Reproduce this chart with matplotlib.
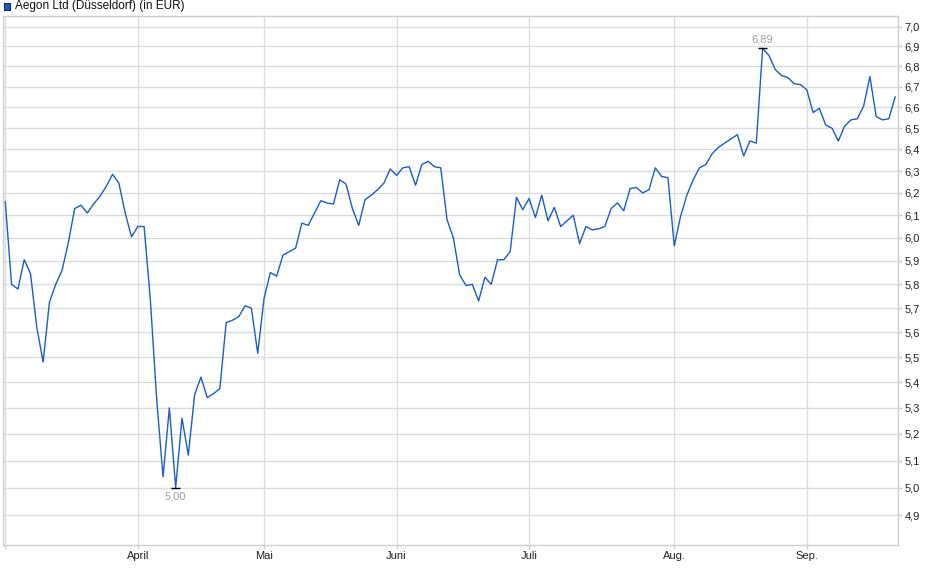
import numpy as np
import pandas as pd
import matplotlib
matplotlib.use("Agg")
import matplotlib.pyplot as plt
from matplotlib.patches import Rectangle
from matplotlib.ticker import FixedLocator, NullLocator

plt.rcParams["font.family"] = ["Liberation Sans", "DejaVu Sans"]

title = "Aegon Ltd (Düsseldorf) (in EUR)"

# trading days (Düsseldorf), March 3 - Sept 19 2025
holidays = ["2025-04-18", "2025-04-21", "2025-05-01"]
dates = pd.bdate_range("2025-03-03", "2025-09-19")
dates = dates[~dates.isin(pd.to_datetime(holidays))]

close = [
    6.16, 5.80, 5.78, 5.905, 5.845, 5.62, 5.48, 5.725, 5.80, 5.86,
    5.98, 6.13, 6.145, 6.11, 6.15, 6.185, 6.23, 6.285, 6.245, 6.11,
    6.005, 6.05, 6.05, 5.73, 5.33, 5.04, 5.30, 5.00, 5.26, 5.12,
    5.35, 5.42, 5.34, 5.355, 5.375, 5.64, 5.65, 5.665, 5.71, 5.70,
    5.515, 5.74, 5.85, 5.835, 5.925, 5.94, 5.955, 6.065, 6.055, 6.11,
    6.165, 6.155, 6.15, 6.26, 6.24, 6.13, 6.055, 6.17, 6.19, 6.215,
    6.245, 6.31, 6.28, 6.315, 6.32, 6.235, 6.33, 6.345, 6.32, 6.315,
    6.08, 6.00, 5.84, 5.795, 5.80, 5.73, 5.83, 5.80, 5.905, 5.905,
    5.94, 6.18, 6.125, 6.175, 6.09, 6.19, 6.075, 6.135, 6.05, 6.075,
    6.10, 5.975, 6.05, 6.035, 6.04, 6.05, 6.13, 6.155, 6.12, 6.22,
    6.225, 6.20, 6.215, 6.315, 6.275, 6.27, 5.965, 6.095, 6.19, 6.26,
    6.315, 6.33, 6.38, 6.41, 6.43, 6.45, 6.47, 6.37, 6.44, 6.43,
    6.89, 6.855, 6.785, 6.755, 6.745, 6.715, 6.71, 6.685, 6.575, 6.595,
    6.515, 6.50, 6.44, 6.51, 6.54, 6.545, 6.605, 6.75, 6.555, 6.54,
    6.545, 6.65,
]

month_names = {3: "", 4: "April", 5: "Mai", 6: "Juni", 7: "Juli", 8: "Aug.", 9: "Sep."}
y_ticks = [4.9, 5.0, 5.1, 5.2, 5.3, 5.4, 5.5, 5.6, 5.7, 5.8, 5.9,
           6.0, 6.1, 6.2, 6.3, 6.4, 6.5, 6.6, 6.7, 6.8, 6.9, 7.0]

x = np.arange(len(close))
month_starts = np.r_[0, np.nonzero(np.diff(dates.month))[0] + 1]
month_labels = [month_names[m] for m in dates.month[month_starts]]

fig = plt.figure(figsize=(9.4, 5.79), dpi=100)
ax = fig.add_axes([3 / 940, 1 - 545 / 579, 895.3 / 940, 529 / 579])

ax.plot(x, close, color="#1b5cc6", lw=1.0, zorder=3)

ax.set_yscale("log")
ax.set_xlim(-0.36, 141.5)
ax.set_ylim(4.795, 7.055)

ax.yaxis.set_major_locator(FixedLocator(y_ticks))
ax.yaxis.set_minor_locator(NullLocator())
ax.set_yticklabels([f"{v:.1f}".replace(".", ",") for v in y_ticks])
ax.yaxis.tick_right()
ax.set_xticks(month_starts)
ax.set_xticklabels(month_labels)
ax.xaxis.set_minor_locator(NullLocator())

ax.tick_params(axis="both", length=3, width=1, color="#d0d0d0",
               labelcolor="#222222", labelsize=8, pad=1.5)
ax.grid(True, color="#dcdcdc", lw=1, zorder=0)
for s in ax.spines.values():
    s.set_color("#cfcfcf")
    s.set_linewidth(1)

# high / low markers
imax = int(np.argmax(close))
imin = int(np.argmin(close))
ax.hlines(close[imax], imax - 0.7, imax + 0.7, color="black", lw=1, zorder=4)
ax.hlines(close[imin], imin - 0.7, imin + 0.7, color="black", lw=1, zorder=4)
ax.annotate(f"{close[imax]:.2f}".replace(".", ","), (imax, close[imax]),
            xytext=(0, 3), textcoords="offset points", ha="center", va="bottom",
            fontsize=8, color="#a0a0a0")
ax.annotate(f"{close[imin]:.2f}".replace(".", ","), (imin, close[imin]),
            xytext=(0, -3), textcoords="offset points", ha="center", va="top",
            fontsize=8, color="#a0a0a0")

# legend-like title
fig.patches.append(Rectangle((3.5 / 940, 1 - 9.5 / 579), 6.5 / 940, 6.5 / 579,
                             transform=fig.transFigure, facecolor="#1b5cc6",
                             edgecolor="#0a2a66", lw=0.8))
fig.text(15 / 940, 1 - 6.5 / 579, title, ha="left", va="center",
         fontsize=8.5, color="#111111")

fig.savefig("out.png", dpi=100)
